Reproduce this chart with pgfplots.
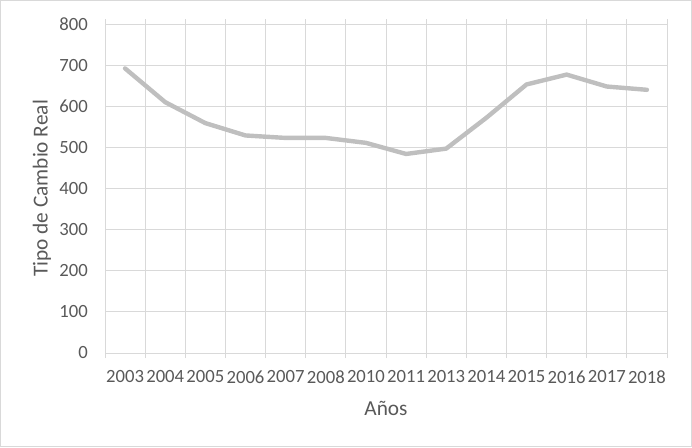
\documentclass[border=0pt]{standalone}
\usepackage{fontspec}
\setmainfont{Carlito}
\usepackage{pgfplots}
\pgfplotsset{compat=1.18}
\definecolor{gridc}{HTML}{D9D9D9}
\definecolor{txt}{HTML}{595959}
\definecolor{linec}{HTML}{BFBFBF}
\begin{document}
\begin{tikzpicture}
\useasboundingbox (0pt,0pt) rectangle (519pt,335.25pt);
\draw[gridc, line width=0.75pt] (0.375pt,0.375pt) rectangle (518.625pt,334.875pt);
\begin{axis}[
  at={(78.75pt,70.5pt)}, anchor=south west,
  scale only axis, width=421.5pt, height=246.75pt,
  xmin=-0.5, xmax=13.5, ymin=0, ymax=800,
  ytick={0,100,...,800},
  xtick={0,...,13},
  xticklabels={2003,2004,2005,2006,2007,2008,2010,2011,2013,2014,2015,2016,2017,2018},
  minor xtick={-0.5,0.5,...,13.5},
  xminorgrids=true, ymajorgrids=true, xmajorgrids=false,
  major tick length=0pt, minor tick length=3.75pt, tick align=outside,
  major tick style={draw=none},
  minor tick style={gridc, line width=0.75pt},
  grid style={gridc, line width=0.75pt},
  minor grid style={gridc, line width=0.75pt},
  axis line style={gridc, line width=0.75pt},
  /pgf/number format/assume math mode=true,
  tick label style={font=\fontsize{14}{16}\selectfont, text=txt, inner sep=0pt},
  yticklabel style={anchor=east, xshift=-12.75pt},
  xticklabel style={anchor=north, yshift=-13pt},
  every axis x label/.style={at={(axis description cs:0.5,0)}, anchor=center, yshift=-41.25pt, font=\fontsize{16}{18}\selectfont, text=txt},
  every axis y label/.style={at={(axis description cs:0,0.5)}, anchor=center, xshift=-47.25pt, rotate=90, font=\fontsize{16}{18}\selectfont, text=txt},
  xlabel={Años},
  ylabel={Tipo de Cambio Real},
  clip=false,
]
\addplot[linec, line width=3.3pt, line join=round, line cap=round] coordinates {
 (0,692) (1,610) (2,559) (3,529) (4,523) (5,523) (6,511)
 (7,484) (8,497) (9,572) (10,653) (11,677) (12,648) (13,640)
};
\end{axis}
\end{tikzpicture}
\end{document}
